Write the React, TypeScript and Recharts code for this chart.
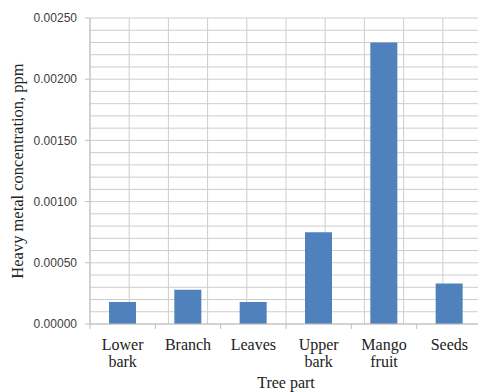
import { Bar, BarChart, CartesianGrid, XAxis, YAxis } from "recharts";

const parts = ["Lower bark", "Branch", "Leaves", "Upper bark", "Mango fruit", "Seeds"];
const concentration = [0.00018, 0.00028, 0.00018, 0.00075, 0.0023, 0.00033];
const majorTicks = [0, 0.0005, 0.001, 0.0015, 0.002, 0.0025];
const minorTicks = [
  0, 0.0001, 0.0002, 0.0003, 0.0004, 0.0005, 0.0006, 0.0007, 0.0008, 0.0009, 0.001,
  0.0011, 0.0012, 0.0013, 0.0014, 0.0015, 0.0016, 0.0017, 0.0018, 0.0019, 0.002,
  0.0021, 0.0022, 0.0023, 0.0024, 0.0025,
];
// category edges and centres on a 0..6 scale, used for the vertical grid
const halfTicks = [0, 0.5, 1, 1.5, 2, 2.5, 3, 3.5, 4, 4.5, 5, 5.5, 6];

const data = parts.map((part, i) => ({ part, value: concentration[i] }));

const AXIS = "#bfbfbf";
const GRID = "#cdcdcd";
const SERIF = "'Liberation Serif', 'Times New Roman', serif";

// two-line category label plus a tick mark on the left edge of the band
function CategoryTick(props: any) {
  const { x, y, payload, width, visibleTicksCount, index } = props;
  const band = width / visibleTicksCount;
  const lines = String(payload.value).split(" ");
  const top = y - 8;
  return (
    <g>
      <line x1={x - band / 2} x2={x - band / 2} y1={top} y2={top + 5} stroke={AXIS} />
      {index === visibleTicksCount - 1 && (
        <line x1={x + band / 2} x2={x + band / 2} y1={top} y2={top + 5} stroke={AXIS} />
      )}
      <text x={x} y={y} textAnchor="middle" fill="#222" fontFamily={SERIF} fontSize={16}>
        {lines.map((line, i) => (
          <tspan key={i} x={x} dy={i === 0 ? 18 : 17}>
            {line}
          </tspan>
        ))}
      </text>
    </g>
  );
}

function YTitle(props: any) {
  const { viewBox } = props;
  const cx = viewBox.x + 17;
  const cy = viewBox.y + viewBox.height / 2;
  return (
    <text
      x={cx}
      y={cy}
      transform={`rotate(-90, ${cx}, ${cy})`}
      textAnchor="middle"
      dominantBaseline="central"
      fill="#222"
      fontFamily={SERIF}
      fontSize={16.5}
    >
      Heavy metal concentration, ppm
    </text>
  );
}

export default function App() {
  return (
    <div style={{ position: "absolute", left: 0, top: 0, width: 478, height: 392, overflow: "hidden", background: "#fff" }}>
      <BarChart width={482} height={392} data={data} margin={{ top: 18, right: 0, bottom: 0, left: 0 }} barSize={27}>
        <CartesianGrid xAxisId="half" yAxisId="minor" stroke={GRID} strokeWidth={1} />
        <XAxis
          dataKey="part"
          height={68}
          axisLine={{ stroke: AXIS }}
          tickLine={false}
          tickSize={6}
          tickMargin={2}
          tick={<CategoryTick />}
          interval={0}
          label={{ value: "Tree part", position: "insideBottom", offset: 4, fill: "#222", fontFamily: SERIF, fontSize: 16 }}
        />
        <XAxis
          xAxisId="half"
          type="number"
          domain={[0, 6]}
          allowDataOverflow
          ticks={halfTicks}
          interval={0}
          hide
        />
        <YAxis
          width={90}
          domain={[0, 0.0025]}
          ticks={majorTicks}
          interval={0}
          tickFormatter={(v: number) => v.toFixed(5)}
          axisLine={{ stroke: AXIS }}
          tickLine={{ stroke: AXIS }}
          tickSize={5}
          tickMargin={8}
          tick={{ fill: "#404040", fontFamily: "'Liberation Sans', Arial, sans-serif", fontSize: 12 }}
          label={<YTitle />}
        />
        <YAxis yAxisId="minor" domain={[0, 0.0025]} allowDataOverflow ticks={minorTicks} interval={0} hide />
        <Bar dataKey="value" fill="#4f81bd" isAnimationActive={false} />
      </BarChart>
    </div>
  );
}
